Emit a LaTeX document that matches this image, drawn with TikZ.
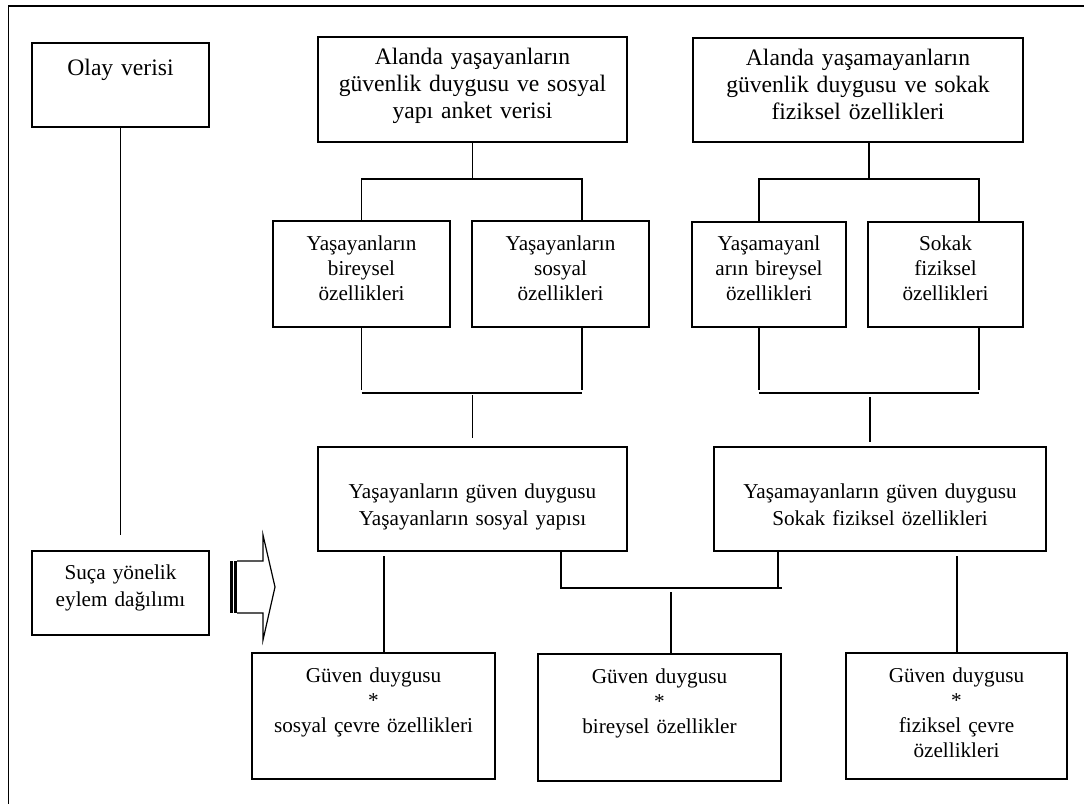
\documentclass[tikz,border=0pt]{standalone}
\usepackage{fontspec}
\setmainfont{Liberation Serif}
\newcommand{\kucukyazi}{\fontsize{21.2pt}{25pt}\selectfont}
\newcommand{\buyukyazi}{\fontsize{23.6pt}{27pt}\selectfont}
\newcommand{\genisyazi}{\fontsize{21.2pt}{27pt}\selectfont}
\tikzset{
  kutu/.style={draw, line width=1.5pt, inner sep=0pt, anchor=north, align=center, font=\kucukyazi},
  olcu/.style n args={3}{text width=#1pt, text height=#2pt, text depth=#3pt},
  hat/.style={line width=1.3pt},
}
\begin{document}
\begin{tikzpicture}[x=1pt, y=-1pt]
  \useasboundingbox (0,0) rectangle (1084,803);
  % Dis cerceve
  \draw[hat] (8.5,820) -- (8.5,6) -- (1100,6);
  % Sol sutun
  \node[kutu, olcu={177}{33}{51}, font=\buyukyazi] (olay) at (120.5,42) {Olay verisi};
  \node[kutu, olcu={177}{29}{55}, font=\genisyazi] (suca) at (120.5,550) {Suça yönelik\\eylem dağılımı};
  \coordinate (o1) at (120.5,535);
  \draw[hat] (olay.south) -- (o1);
  % Blok ok
  \draw[line width=1.2pt] (237,561) -- (263,561) -- (263,535) -- (275,587) -- (263,640) -- (263,613) -- (237,613);
  \draw[line width=2.6pt] (231.5,561) -- (231.5,613);
  \draw[line width=2.6pt] (235.6,561) -- (235.6,613);
  % Ust kutular
  \node[kutu, olcu={309}{28}{77}, font=\buyukyazi] (alanA) at (472.5,36) {Alanda yaşayanların\\güvenlik duygusu ve sosyal\\yapı anket verisi};
  \node[kutu, olcu={330}{28}{76}, font=\buyukyazi] (alanB) at (858,37) {Alanda yaşamayanların\\güvenlik duygusu ve sokak\\fiziksel özellikleri};
  % Ikinci sira
  \node[kutu, olcu={177}{30}{76}] (yasBir) at (361.5,220) {Yaşayanların\\bireysel\\özellikleri};
  \node[kutu, olcu={177}{30}{76}] (yasSos) at (560.5,220) {Yaşayanların\\sosyal\\özellikleri};
  \node[kutu, olcu={154}{29}{76}] (yamBir) at (769,221) {Yaşamayanl\\arın bireysel\\özellikleri};
  \node[kutu, olcu={155}{29}{76}] (sokak) at (945.5,221) {Sokak\\fiziksel\\özellikleri};
  % Ust baglantilar
  \coordinate (aOrta) at (472.5,179);
  \coordinate (bOrta) at (869,179);
  \coordinate (sosUst) at ([xshift=21.5]yasSos.north);
  \coordinate (sosAlt) at ([xshift=21.5]yasSos.south);
  \coordinate (yamUst) at ([xshift=-10]yamBir.north);
  \coordinate (sokUst) at ([xshift=33.5]sokak.north);
  \draw[hat] (alanA.south) -- (aOrta);
  \draw[hat] (yasBir.north) |- (aOrta) -| (sosUst);
  \draw[hat] (bOrta |- alanB.south) -- (bOrta);
  \draw[hat] (yamUst) |- (bOrta) -| (sokUst);
  % Orta kutular
  \node[kutu, olcu={309}{52}{52}, font=\genisyazi] (yasGuven) at (472.5,446) {Yaşayanların güven duygusu\\Yaşayanların sosyal yapısı};
  \node[kutu, olcu={332}{52}{52}, font=\genisyazi] (yamGuven) at (880,446) {Yaşamayanların güven duygusu\\Sokak fiziksel özellikleri};
  % Alt baglantilar (ikinci sira -> orta)
  \coordinate (cBar) at (472.5,393);
  \coordinate (dBar) at (870,393);
  \draw[hat] (yasBir.south) -- ([yshift=3]yasBir.south |- cBar);
  \draw[hat] (sosAlt) -- ([yshift=3]sosAlt |- cBar);
  \draw[hat] (yasBir.south |- cBar) -- (sosAlt |- cBar);
  \draw[hat] ([yshift=-2]cBar) -- ([yshift=8]yasGuven.north);
  \draw[hat] (yamUst |- yamBir.south) -- ([yshift=3]yamUst |- dBar);
  \draw[hat] (sokUst |- sokak.south) -- ([yshift=3]sokUst |- dBar);
  \draw[hat] (yamUst |- dBar) -- (sokUst |- dBar);
  \draw[hat] ([yshift=-4]dBar) -- ([yshift=4]dBar |- yamGuven.north);
  % Alt kutular
  \node[kutu, olcu={243}{30}{96}] (altSos) at (373.5,652) {Güven duygusu\\{*}\\sosyal çevre özellikleri};
  \node[kutu, olcu={243}{30}{97}] (altBir) at (659.5,653) {Güven duygusu\\{*}\\bireysel özellikler};
  \node[kutu, olcu={221}{30}{96}] (altFiz) at (956.5,652) {Güven duygusu\\{*}\\fiziksel çevre\\özellikleri};
  % Orta -> alt
  \coordinate (k1) at (384,556);
  \coordinate (k2) at (957,556);
  \coordinate (e1) at (561,588);
  \coordinate (e2) at (778,588);
  \coordinate (e3) at (671,592);
  \draw[hat] (k1) -- (k1 |- altSos.north);
  \draw[hat] (k2) -- (k2 |- altFiz.north);
  \draw[hat] (e1 |- yasGuven.south) -- (e1) -- ([xshift=4]e2);
  \draw[hat] (e2 |- yamGuven.south) -- (e2);
  \draw[hat] (e3) -- (e3 |- altBir.north);
\end{tikzpicture}
\end{document}
